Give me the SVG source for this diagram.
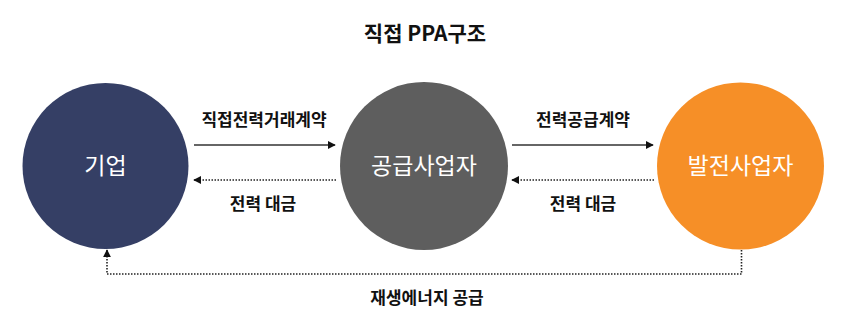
<svg xmlns="http://www.w3.org/2000/svg" width="852" height="328" viewBox="0 0 852 328">
<style>
.t{font-family:"Noto Sans CJK KR","Noto Sans",sans-serif;text-anchor:middle}
.title{font-size:21px;font-weight:bold;fill:#111}
.lbl{font-size:17px;font-weight:bold;fill:#111}
.node{font-size:23px;fill:#fff}
.solid{stroke:#333;stroke-width:1.3;fill:none}
.dot{stroke:#222;stroke-width:1.6;stroke-dasharray:1.5 1.5;fill:none}
</style>
<defs>
<marker id="ah" viewBox="0 0 10 10" refX="9" refY="5" markerWidth="8" markerHeight="8" markerUnits="userSpaceOnUse" orient="auto"><path d="M0,0 L10,5 L0,10 z" fill="#111"/></marker>
</defs>
<rect width="852" height="328" fill="#fff"/>
<text class="t title" x="425" y="41">직접 PPA구조</text>
<g id="n-company"><circle cx="105.5" cy="166" r="83" fill="#353F65"/><text class="t node" x="105.5" y="174">기업</text></g>
<g id="n-supplier"><circle cx="424" cy="166" r="84" fill="#5E5E5E"/><text class="t node" x="424" y="174">공급사업자</text></g>
<g id="n-generator"><circle cx="740.5" cy="166" r="83.5" fill="#F68F27"/><text class="t node" x="740.5" y="174">발전사업자</text></g>
<g id="connectors">
<line class="solid" x1="194" y1="145" x2="335" y2="145" marker-end="url(#ah)"/>
<line class="dot" x1="336" y1="180" x2="194" y2="180" marker-end="url(#ah)"/>
<line class="solid" x1="512" y1="145" x2="653" y2="145" marker-end="url(#ah)"/>
<line class="dot" x1="654" y1="180" x2="512" y2="180" marker-end="url(#ah)"/>
<polyline class="dot" points="741.5,250 741.5,274 107,274 107,250" marker-end="url(#ah)"/>
</g>
<text class="t lbl" x="264" y="126">직접전력거래계약</text>
<text class="t lbl" x="263" y="210">전력 대금</text>
<text class="t lbl" x="583" y="126">전력공급계약</text>
<text class="t lbl" x="583" y="210">전력 대금</text>
<text class="t lbl" x="427" y="304">재생에너지 공급</text>
</svg>
